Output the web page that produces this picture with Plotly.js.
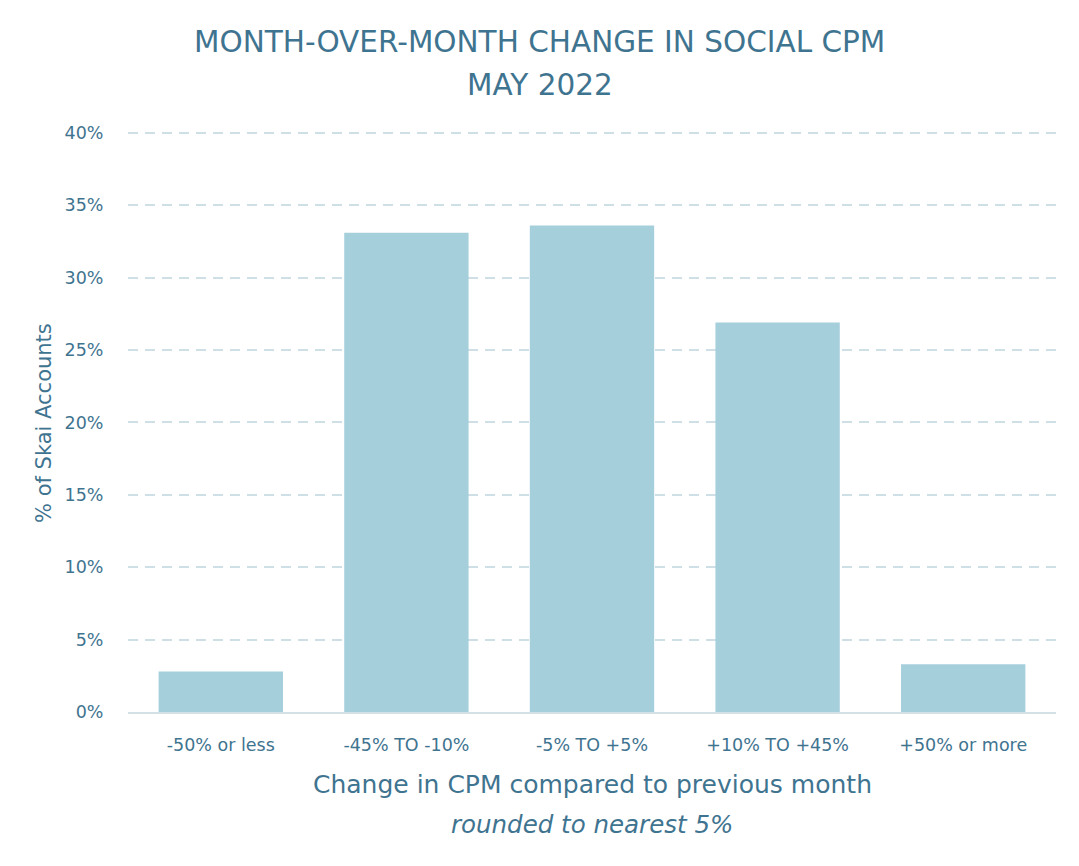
<!DOCTYPE html>
<html><head><meta charset="utf-8">
<script src="https://cdn.plot.ly/plotly-3.0.1.min.js"></script>
<style>html,body{margin:0;padding:0;background:#fff}#chart{width:1079px;height:866px}</style>
</head><body><div id="chart"></div>
<script>
const categories = ["-50% or less", "-45% TO -10%", "-5% TO +5%", "+10% TO +45%", "+50% or more"];
const shareOfAccounts = [0.028, 0.331, 0.336, 0.269, 0.033];
const yTickValues = [0, 0.05, 0.10, 0.15, 0.20, 0.25, 0.30, 0.35, 0.40];
const yTickLabels = ["0%", "5%", "10%", "15%", "20%", "25%", "30%", "35%", "40%"];
const titleLines = ["MONTH-OVER-MONTH CHANGE IN SOCIAL CPM", "MAY 2022"];
const xTitleLines = ["Change in CPM compared to previous month", "rounded to nearest 5%"];
const yTitle = "% of Skai Accounts";

const textColor = "#3f7490";
const fontFam = "DejaVu Sans, Lato, sans-serif";

// plot area: top 130px, bottom 712px (582px tall); 40% sits at 133px
const PH = 582;
const py = p => (712 - p) / PH;
const px = p => (p - 128) / 928;

Plotly.newPlot("chart", [{
  type: "bar",
  x: categories,
  y: shareOfAccounts,
  marker: {color: "#a6cfdc"},
  width: 0.67,
  hoverinfo: "x+y"
}], {
  width: 1079, height: 866,
  paper_bgcolor: "#fff", plot_bgcolor: "#fff",
  margin: {l: 128, r: 23, t: 130, b: 154},
  font: {family: fontFam, color: textColor},
  xaxis: {
    type: "category",
    tickfont: {size: 17.5, color: textColor},
    showline: true, linecolor: "#d3e0e6", linewidth: 2,
    ticks: "outside", ticklen: 16, tickcolor: "rgba(0,0,0,0)"
  },
  yaxis: {
    range: [0, 0.402],
    tickvals: yTickValues, ticktext: yTickLabels,
    tickfont: {size: 17.5, color: textColor},
    showgrid: true, gridcolor: "#cfdfe6", griddash: "10px,7px", gridwidth: 2,
    zeroline: false,
    ticks: "outside", ticklen: 20, tickcolor: "rgba(0,0,0,0)"
  },
  annotations: [
    {text: titleLines[0], xref: "paper", yref: "paper", x: px(539.5), y: py(42), xanchor: "center", yanchor: "middle", showarrow: false, font: {size: 29.5, color: textColor}},
    {text: titleLines[1], xref: "paper", yref: "paper", x: px(539.5), y: py(85), xanchor: "center", yanchor: "middle", showarrow: false, font: {size: 29.5, color: textColor}},
    {text: xTitleLines[0], xref: "paper", yref: "paper", x: 0.5, y: py(784), xanchor: "center", yanchor: "middle", showarrow: false, font: {size: 25, color: textColor}},
    {text: "<i>" + xTitleLines[1] + "</i>", xref: "paper", yref: "paper", x: 0.5, y: py(824), xanchor: "center", yanchor: "middle", showarrow: false, font: {size: 24.5, color: textColor}},
    {text: yTitle, xref: "paper", yref: "paper", x: px(44), y: py(423), xanchor: "center", yanchor: "middle", textangle: -90, showarrow: false, font: {size: 21, color: textColor}}
  ],
  bargap: 0.33,
  showlegend: false
}, {displayModeBar: false});
</script></body></html>
